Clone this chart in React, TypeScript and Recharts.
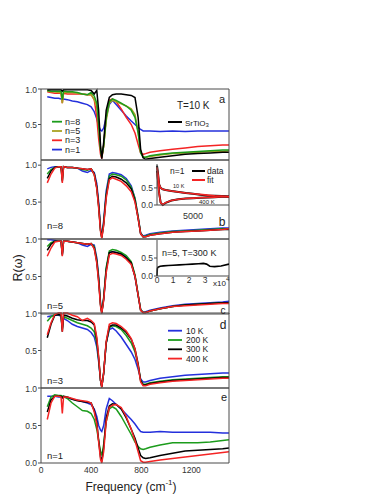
import React from "react";
import { LineChart, Line, XAxis, YAxis } from "recharts";

// frequency grid (cm^-1) shared by all main panels
const freq = [50, 80, 110, 140, 160, 170, 180, 210, 250, 290, 330, 370, 400, 425, 445, 460, 475, 485, 500, 520, 545, 570, 600, 640, 680, 720, 750, 775, 795, 815, 835, 870, 950, 1050, 1150, 1250, 1350, 1450, 1500];

// panel a, T = 10 K
const aSrTiO3 = [0.99, 0.99, 0.99, 0.99, 0.99, 0.97, 0.99, 0.99, 0.99, 0.99, 0.99, 0.99, 0.98, 0.93, 0.98, 0.7, 0.2, 0.02, 0.25, 0.7, 0.88, 0.92, 0.93, 0.93, 0.92, 0.91, 0.88, 0.6, 0.15, 0.03, 0.01, 0.02, 0.04, 0.06, 0.08, 0.09, 0.1, 0.11, 0.11];
const aN8 = [0.98, 0.97, 0.97, 0.97, 0.97, 0.85, 0.97, 0.96, 0.96, 0.95, 0.93, 0.92, 0.95, 0.9, 0.8, 0.5, 0.15, 0.04, 0.2, 0.6, 0.82, 0.86, 0.84, 0.8, 0.76, 0.7, 0.6, 0.38, 0.1, 0.04, 0.04, 0.06, 0.08, 0.1, 0.11, 0.12, 0.13, 0.14, 0.14];
const aN5 = [0.97, 0.96, 0.96, 0.95, 0.95, 0.8, 0.95, 0.95, 0.95, 0.94, 0.93, 0.92, 0.92, 0.85, 0.75, 0.5, 0.15, 0.05, 0.2, 0.55, 0.8, 0.84, 0.82, 0.79, 0.76, 0.72, 0.64, 0.4, 0.12, 0.04, 0.04, 0.05, 0.07, 0.09, 0.1, 0.11, 0.12, 0.12, 0.13];
const aN3 = [0.96, 0.95, 0.94, 0.94, 0.94, 0.8, 0.94, 0.93, 0.93, 0.93, 0.93, 0.92, 0.92, 0.85, 0.6, 0.3, 0.08, 0.02, 0.2, 0.6, 0.84, 0.86, 0.82, 0.72, 0.6, 0.5, 0.38, 0.22, 0.1, 0.08, 0.09, 0.11, 0.13, 0.15, 0.17, 0.19, 0.2, 0.21, 0.21];
const aN1 = [0.89, 0.88, 0.87, 0.87, 0.86, 0.85, 0.86, 0.85, 0.83, 0.82, 0.8, 0.78, 0.75, 0.68, 0.58, 0.48, 0.42, 0.41, 0.45, 0.6, 0.78, 0.84, 0.78, 0.7, 0.62, 0.55, 0.5, 0.46, 0.43, 0.41, 0.41, 0.41, 0.4, 0.41, 0.4, 0.41, 0.41, 0.41, 0.41];

// panel b, n = 8
const bT10 = [0.95, 0.97, 0.98, 0.98, 0.98, 0.85, 0.98, 0.97, 0.97, 0.96, 0.92, 0.9, 0.93, 0.9, 0.75, 0.5, 0.15, 0.03, 0.25, 0.65, 0.88, 0.9, 0.89, 0.87, 0.82, 0.72, 0.55, 0.3, 0.08, 0.04, 0.05, 0.07, 0.09, 0.11, 0.12, 0.13, 0.14, 0.15, 0.15];
const bT200 = [0.88, 0.94, 0.97, 0.98, 0.98, 0.8, 0.98, 0.97, 0.97, 0.96, 0.94, 0.93, 0.95, 0.88, 0.7, 0.45, 0.12, 0.02, 0.22, 0.6, 0.85, 0.88, 0.87, 0.85, 0.8, 0.7, 0.55, 0.3, 0.08, 0.03, 0.04, 0.06, 0.08, 0.1, 0.11, 0.12, 0.13, 0.14, 0.14];
const bT300 = [0.82, 0.92, 0.97, 0.98, 0.98, 0.78, 0.98, 0.97, 0.97, 0.96, 0.95, 0.94, 0.95, 0.88, 0.7, 0.45, 0.12, 0.02, 0.2, 0.58, 0.82, 0.85, 0.84, 0.81, 0.76, 0.68, 0.52, 0.28, 0.07, 0.03, 0.03, 0.05, 0.07, 0.09, 0.1, 0.11, 0.12, 0.13, 0.13];
const bT400 = [0.76, 0.88, 0.96, 0.98, 0.98, 0.76, 0.98, 0.97, 0.97, 0.96, 0.95, 0.94, 0.95, 0.87, 0.68, 0.42, 0.1, 0.01, 0.18, 0.55, 0.8, 0.83, 0.81, 0.78, 0.72, 0.64, 0.5, 0.28, 0.07, 0.03, 0.03, 0.05, 0.07, 0.09, 0.1, 0.11, 0.12, 0.13, 0.14];

// panel c, n = 5
const cT10 = [0.99, 0.99, 0.98, 0.97, 0.97, 0.8, 0.97, 0.97, 0.96, 0.95, 0.92, 0.9, 0.93, 0.92, 0.75, 0.5, 0.15, 0.02, 0.2, 0.6, 0.82, 0.83, 0.82, 0.8, 0.76, 0.68, 0.5, 0.25, 0.06, 0.02, 0.03, 0.05, 0.08, 0.11, 0.13, 0.14, 0.15, 0.16, 0.17];
const cT200 = [0.9, 0.95, 0.97, 0.97, 0.97, 0.8, 0.97, 0.97, 0.96, 0.95, 0.94, 0.93, 0.94, 0.9, 0.72, 0.48, 0.13, 0.02, 0.22, 0.62, 0.84, 0.86, 0.85, 0.82, 0.78, 0.7, 0.52, 0.26, 0.06, 0.02, 0.02, 0.04, 0.07, 0.1, 0.12, 0.13, 0.14, 0.15, 0.15];
const cT300 = [0.85, 0.93, 0.97, 0.97, 0.97, 0.78, 0.97, 0.97, 0.96, 0.95, 0.94, 0.93, 0.94, 0.88, 0.7, 0.45, 0.12, 0.01, 0.2, 0.58, 0.82, 0.83, 0.82, 0.8, 0.75, 0.68, 0.5, 0.25, 0.05, 0.02, 0.02, 0.04, 0.07, 0.1, 0.12, 0.13, 0.14, 0.15, 0.15];
const cT400 = [0.77, 0.88, 0.96, 0.97, 0.97, 0.77, 0.97, 0.97, 0.96, 0.95, 0.94, 0.93, 0.94, 0.87, 0.68, 0.42, 0.1, 0.01, 0.18, 0.55, 0.79, 0.81, 0.8, 0.78, 0.73, 0.66, 0.5, 0.25, 0.05, 0.02, 0.02, 0.04, 0.07, 0.1, 0.11, 0.12, 0.13, 0.14, 0.14];

// panel d, n = 3
const dT10 = [0.95, 0.96, 0.97, 0.97, 0.96, 0.8, 0.93, 0.9, 0.85, 0.82, 0.8, 0.78, 0.74, 0.68, 0.55, 0.35, 0.1, 0.02, 0.2, 0.6, 0.78, 0.8, 0.76, 0.68, 0.58, 0.48, 0.38, 0.25, 0.12, 0.08, 0.08, 0.1, 0.13, 0.15, 0.17, 0.18, 0.19, 0.2, 0.2];
const dT200 = [0.89, 0.95, 0.98, 0.98, 0.97, 0.78, 0.95, 0.93, 0.9, 0.87, 0.85, 0.83, 0.8, 0.75, 0.6, 0.38, 0.1, 0.02, 0.2, 0.6, 0.8, 0.83, 0.82, 0.78, 0.7, 0.6, 0.48, 0.3, 0.1, 0.05, 0.05, 0.07, 0.09, 0.11, 0.12, 0.13, 0.14, 0.15, 0.15];
const dT300 = [0.67, 0.85, 0.97, 0.98, 0.97, 0.75, 0.97, 0.96, 0.93, 0.91, 0.9, 0.9, 0.88, 0.84, 0.65, 0.4, 0.1, 0.01, 0.2, 0.6, 0.82, 0.84, 0.84, 0.8, 0.74, 0.65, 0.52, 0.32, 0.1, 0.04, 0.04, 0.06, 0.08, 0.1, 0.11, 0.12, 0.13, 0.14, 0.14];
const dT400 = [0.71, 0.87, 0.98, 1.0, 1.0, 0.75, 1.0, 1.0, 0.97, 0.95, 0.9, 0.93, 0.9, 0.86, 0.68, 0.42, 0.1, 0.01, 0.2, 0.62, 0.85, 0.87, 0.86, 0.82, 0.76, 0.66, 0.52, 0.3, 0.08, 0.03, 0.03, 0.05, 0.07, 0.09, 0.1, 0.11, 0.12, 0.13, 0.13];

// panel e, n = 1
const eT10 = [0.89, 0.89, 0.89, 0.88, 0.88, 0.87, 0.88, 0.87, 0.85, 0.84, 0.82, 0.8, 0.78, 0.72, 0.62, 0.5, 0.44, 0.42, 0.5, 0.72, 0.86, 0.83, 0.78, 0.72, 0.65, 0.58, 0.52, 0.46, 0.42, 0.41, 0.41, 0.41, 0.42, 0.41, 0.41, 0.41, 0.41, 0.4, 0.4];
const eT200 = [0.75, 0.88, 0.91, 0.9, 0.9, 0.89, 0.89, 0.86, 0.8, 0.75, 0.7, 0.69, 0.66, 0.58, 0.45, 0.3, 0.15, 0.1, 0.25, 0.55, 0.72, 0.75, 0.72, 0.62, 0.5, 0.38, 0.28, 0.22, 0.19, 0.18, 0.19, 0.21, 0.24, 0.27, 0.27, 0.27, 0.28, 0.3, 0.31];
const eT300 = [0.68, 0.84, 0.89, 0.89, 0.89, 0.87, 0.89, 0.88, 0.85, 0.83, 0.82, 0.81, 0.8, 0.7, 0.55, 0.3, 0.08, 0.02, 0.2, 0.6, 0.76, 0.79, 0.78, 0.72, 0.6, 0.45, 0.33, 0.2, 0.1, 0.07, 0.06, 0.07, 0.1, 0.13, 0.16, 0.17, 0.18, 0.19, 0.2];
const eT400 = [0.58, 0.8, 0.89, 0.89, 0.88, 0.66, 0.88, 0.88, 0.86, 0.84, 0.83, 0.82, 0.8, 0.68, 0.52, 0.28, 0.05, 0.0, 0.15, 0.55, 0.74, 0.77, 0.78, 0.74, 0.62, 0.45, 0.3, 0.15, 0.03, 0.01, 0.01, 0.02, 0.04, 0.06, 0.08, 0.1, 0.12, 0.14, 0.15];

// inset of panel b: n=1, wide range, data and fit
const insetBFreq = [0, 150, 300, 500, 800, 1200, 2000, 3000, 4000, 5000, 6000, 7000, 8000, 9000, 10000];
const insetB10Data = [1.15, 0.9, 0.6, 0.5, 0.46, 0.44, 0.41, 0.38, 0.35, 0.33, 0.3, 0.28, 0.27, 0.26, 0.25];
const insetB10Fit = [1.1, 0.88, 0.6, 0.5, 0.46, 0.44, 0.41, 0.38, 0.35, 0.33, 0.31, 0.29, 0.27, 0.26, 0.25];
const insetB400Data = [1.0, 0.7, 0.35, 0.08, 0.0, 0.06, 0.13, 0.17, 0.19, 0.2, 0.21, 0.22, 0.23, 0.24, 0.24];
const insetB400Fit = [0.95, 0.68, 0.33, 0.07, 0.01, 0.07, 0.13, 0.17, 0.19, 0.2, 0.21, 0.22, 0.23, 0.24, 0.24];

// inset of panel c: n=5, T=300 K
const insetCFreq = [0, 200, 500, 1000, 2000, 4000, 7000, 10000, 14000, 18000, 22000, 26000, 29000, 31000, 33000, 36000, 40000, 45000];
const insetCR = [0.0, 0.2, 0.24, 0.25, 0.27, 0.28, 0.29, 0.3, 0.31, 0.32, 0.33, 0.34, 0.35, 0.33, 0.27, 0.26, 0.28, 0.33];

const xTicks = [0, 200, 400, 600, 800, 1000, 1200, 1400];
const xLabelTicks = [0, 400, 800, 1200];

const BLUE = "#2430dc";
const GREEN = "#1c9c1c";
const OLIVE = "#aaa222";
const RED = "#f42424";
const BLACK = "#000000";
const AX = "#4a4a4a";
const FONT = "'Liberation Sans', Arial, sans-serif";

type Series = { key: string; values: number[]; color: string };

const tempSeries = (t10: number[], t200: number[], t300: number[], t400: number[]): Series[] => [
  { key: "t10", values: t10, color: BLUE },
  { key: "t200", values: t200, color: GREEN },
  { key: "t300", values: t300, color: BLACK },
  { key: "t400", values: t400, color: RED },
];

const panels = [
  {
    id: "a", top: 89, h: 71, yMax: 1, yTicks: [0.5, 1],
    series: [
      { key: "n1", values: aN1, color: BLUE },
      { key: "n3", values: aN3, color: RED },
      { key: "n5", values: aN5, color: OLIVE },
      { key: "n8", values: aN8, color: GREEN },
      { key: "sto", values: aSrTiO3, color: BLACK },
    ],
  },
  { id: "b", top: 160, h: 79, yMax: 1.07, yTicks: [0.5, 1], series: tempSeries(bT10, bT200, bT300, bT400) },
  { id: "c", top: 239, h: 75, yMax: 1, yTicks: [0.5, 1], series: tempSeries(cT10, cT200, cT300, cT400) },
  { id: "d", top: 313, h: 75, yMax: 1, yTicks: [0.5, 1], series: tempSeries(dT10, dT200, dT300, dT400) },
  { id: "e", top: 388, h: 75, yMax: 1, yTicks: [0, 0.5, 1], series: tempSeries(eT10, eT200, eT300, eT400), labels: true },
];

const tickFont = { fontSize: 8.5, fill: "#333", fontFamily: FONT };

// axes of size 0 are not drawn by recharts, so the frame axes get 1px
function Panel({ p }: { p: any }) {
  const mTop = 4;
  const mBottom = p.labels ? 21 : 4;
  const data = freq.map((f, i) => {
    const row: any = { f };
    p.series.forEach((s: Series) => (row[s.key] = s.values[i]));
    return row;
  });
  return (
    <LineChart
      width={240}
      height={p.h + mTop + mBottom + (p.labels ? 1 : 0)}
      data={data}
      margin={{ top: mTop, right: 11, bottom: mBottom, left: 0 }}
      style={{ position: "absolute", left: 0, top: p.top - mTop }}
    >
      <XAxis xAxisId="b" dataKey="f" type="number" domain={[0, 1500]} ticks={xTicks} orientation="bottom" mirror height={1} tick={false} tickSize={3} stroke={AX} />
      <XAxis xAxisId="t" dataKey="f" type="number" domain={[0, 1500]} ticks={xTicks} orientation="top" mirror height={1} tick={false} tickSize={3} stroke={AX} />
      {p.labels && (
        <XAxis xAxisId="lab" dataKey="f" type="number" domain={[0, 1500]} ticks={xLabelTicks} orientation="bottom" height={1} axisLine={false} tickLine={false} tickSize={0} tickMargin={4} tick={tickFont} />
      )}
      <YAxis yAxisId="l" type="number" domain={[0, p.yMax]} ticks={p.yTicks} width={41} tickSize={3} tickMargin={1} tickFormatter={(v: number) => v.toFixed(1)} tick={tickFont} stroke={AX} />
      <YAxis yAxisId="r" orientation="right" mirror type="number" domain={[0, p.yMax]} ticks={p.yTicks} width={1} tick={false} tickSize={3} stroke={AX} />
      {p.series.map((s: Series) => (
        <Line key={s.key} xAxisId="b" yAxisId="l" type="linear" dataKey={s.key} stroke={s.color} strokeWidth={1.5} dot={false} isAnimationActive={false} />
      ))}
    </LineChart>
  );
}

function InsetB() {
  const data = insetBFreq.map((f, i) => ({
    f,
    d10: insetB10Data[i],
    d400: insetB400Data[i],
    f10: insetB10Fit[i],
    f400: insetB400Fit[i],
  }));
  return (
    <LineChart width={92} height={66} data={data} margin={{ top: 4, right: 0, bottom: 20, left: 0 }} style={{ position: "absolute", left: 137, top: 160 }}>
      <XAxis xAxisId="b" dataKey="f" type="number" domain={[0, 10000]} ticks={[5000]} mirror height={1} tick={false} tickSize={3} stroke={AX} />
      <XAxis xAxisId="lab" dataKey="f" type="number" domain={[0, 10000]} ticks={[5000]} height={1} axisLine={false} tickLine={false} tickSize={0} tickMargin={8} tick={{ ...tickFont, fontSize: 9 }} />
      <YAxis type="number" domain={[0, 1.2]} ticks={[0, 0.5]} width={20} tickSize={3} tickMargin={1} tickFormatter={(v: number) => v.toFixed(1)} tick={tickFont} stroke={AX} />
      <Line xAxisId="b" dataKey="d10" stroke={BLACK} strokeWidth={2} dot={false} isAnimationActive={false} />
      <Line xAxisId="b" dataKey="d400" stroke={BLACK} strokeWidth={2} dot={false} isAnimationActive={false} />
      <Line xAxisId="b" dataKey="f10" stroke={RED} strokeWidth={1.6} dot={false} isAnimationActive={false} />
      <Line xAxisId="b" dataKey="f400" stroke={RED} strokeWidth={1.6} dot={false} isAnimationActive={false} />
    </LineChart>
  );
}

function InsetC() {
  const data = insetCFreq.map((f, i) => ({ f, r: insetCR[i] }));
  return (
    <LineChart width={92} height={57} data={data} margin={{ top: 4, right: 0, bottom: 16, left: 0 }} style={{ position: "absolute", left: 137, top: 236 }}>
      <XAxis xAxisId="b" dataKey="f" type="number" domain={[0, 45000]} ticks={[0, 10000, 20000, 30000]} mirror height={1} tick={false} tickSize={3} stroke={AX} />
      <XAxis xAxisId="lab" dataKey="f" type="number" domain={[0, 45000]} ticks={[0, 10000, 20000, 30000]} height={1} axisLine={false} tickLine={false} tickSize={0} tickMargin={1} tickFormatter={(v: number) => String(v / 10000)} tick={tickFont} />
      <YAxis type="number" domain={[0, 1]} ticks={[0, 0.5]} width={20} tickSize={3} tickMargin={1} tickFormatter={(v: number) => v.toFixed(1)} tick={tickFont} stroke={AX} />
      <Line xAxisId="b" dataKey="r" stroke={BLACK} strokeWidth={1.6} dot={false} isAnimationActive={false} />
    </LineChart>
  );
}

const legendA = [
  { label: "n=8", color: GREEN },
  { label: "n=5", color: OLIVE },
  { label: "n=3", color: RED },
  { label: "n=1", color: BLUE },
];
const legendD = [
  { label: "10 K", color: BLUE },
  { label: "200 K", color: GREEN },
  { label: "300 K", color: BLACK },
  { label: "400 K", color: RED },
];

export default function App() {
  const t = { fontFamily: FONT, fill: "#222", dominantBaseline: "central" as const };
  return (
    <div style={{ position: "absolute", left: 0, top: 0, width: 382, height: 494, background: "#fff" }}>
      {panels.map((p) => (
        <Panel key={p.id} p={p} />
      ))}
      <InsetB />
      <InsetC />
      <svg width={382} height={494} style={{ position: "absolute", left: 0, top: 0, pointerEvents: "none" }}>
        {/* panel a */}
        <text {...t} x={177} y={105} fontSize={10}>T=10 K</text>
        <text {...t} x={222} y={99} fontSize={11} textAnchor="middle">a</text>
        {legendA.map((l, i) => (
          <g key={l.label}>
            <line x1={52} x2={62} y1={121.7 + i * 9.3} y2={121.7 + i * 9.3} stroke={l.color} strokeWidth={1.8} />
            <text {...t} x={65} y={121.7 + i * 9.3} fontSize={9}>{l.label}</text>
          </g>
        ))}
        <line x1={168} x2={182} y1={122} y2={122} stroke={BLACK} strokeWidth={2} />
        <text {...t} x={185} y={123} fontSize={8}>
          SrTiO<tspan fontSize={6} dy={2}>3</tspan>
        </text>

        {/* panel b */}
        <text {...t} x={47} y={225} fontSize={9.5}>n=8</text>
        <text {...t} x={222} y={222} fontSize={12} textAnchor="middle">b</text>
        <text {...t} x={170} y={171} fontSize={8.5}>n=1</text>
        <line x1={192} x2={205} y1={171} y2={171} stroke={BLACK} strokeWidth={2} />
        <text {...t} x={207} y={171} fontSize={8.5}>data</text>
        <line x1={192} x2={205} y1={180} y2={180} stroke={RED} strokeWidth={2} />
        <text {...t} x={207} y={180} fontSize={8.5}>fit</text>
        <text {...t} x={173} y={186} fontSize={5.5}>10 K</text>
        <text {...t} x={199} y={202} fontSize={6}>400 K</text>

        {/* panel c */}
        <text {...t} x={162} y={253} fontSize={9}>n=5, T=300 K</text>
        <text {...t} x={213} y={283} fontSize={8}>
          x10<tspan fontSize={6} dy={-4}>4</tspan>
        </text>
        <text {...t} x={47} y={305} fontSize={9.5}>n=5</text>
        <text {...t} x={223} y={310} fontSize={10} textAnchor="middle">c</text>

        {/* panel d */}
        <text {...t} x={223} y={325} fontSize={12} textAnchor="middle">d</text>
        {legendD.map((l, i) => (
          <g key={l.label}>
            <line x1={168} x2={182} y1={330.7 + i * 9.3} y2={330.7 + i * 9.3} stroke={l.color} strokeWidth={1.8} />
            <text {...t} x={186} y={330.7 + i * 9.3} fontSize={8.5}>{l.label}</text>
          </g>
        ))}
        <text {...t} x={47} y={380} fontSize={9.5}>n=3</text>

        {/* panel e */}
        <text {...t} x={224} y={397} fontSize={11} textAnchor="middle">e</text>
        <text {...t} x={47} y={455} fontSize={9.5}>n=1</text>

        {/* axis titles */}
        <text {...t} x={131} y={487} fontSize={12} textAnchor="middle">
          Frequency (cm<tspan fontSize={8} dy={-5}>-1</tspan><tspan dy={5}>)</tspan>
        </text>
        <text {...t} x={18} y={268} fontSize={12.5} textAnchor="middle" transform="rotate(-90 18 268)">R(ω)</text>
      </svg>
    </div>
  );
}
